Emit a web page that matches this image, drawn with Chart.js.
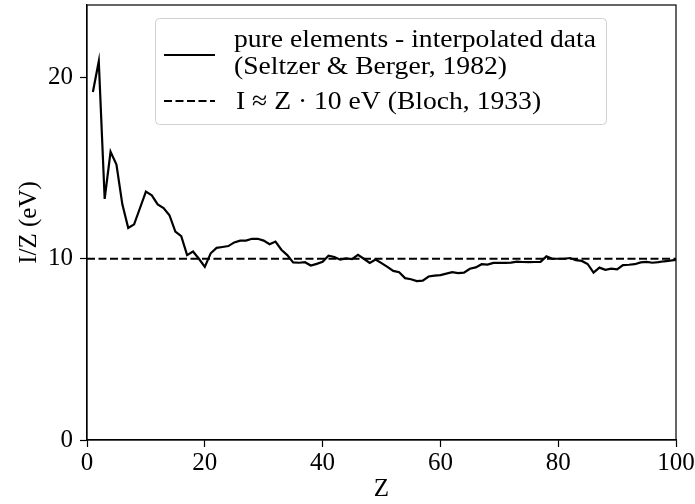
<!DOCTYPE html>
<html>
<head>
<meta charset="utf-8">
<script src="https://cdn.jsdelivr.net/npm/chart.js@4.4.1/dist/chart.umd.min.js"></script>
<style>
html,body{margin:0;padding:0;background:#fff;}
#wrap{width:695px;height:504px;position:relative;}
</style>
</head>
<body>
<div id="wrap"><canvas id="c" width="695" height="504"></canvas></div>
<script>
// ---- data ----
const atomicNumbers = Array.from({length: 100}, (_, i) => i + 1);
const meanExcitationPerZ = [
  19.2, 20.9, 13.3, 15.9, 15.2, 13.0, 11.7, 11.9, 12.8, 13.7,
  13.5, 13.0, 12.8, 12.4, 11.5, 11.25, 10.2, 10.4, 10.0, 9.55,
  10.3, 10.6, 10.65, 10.7, 10.9, 11.0, 11.0, 11.1, 11.1, 11.0,
  10.8, 10.95, 10.5, 10.2, 9.8, 9.78, 9.81, 9.63, 9.72, 9.83,
  10.17, 10.1, 9.95, 10.02, 9.98, 10.22, 10.0, 9.77, 9.96, 9.76,
  9.55, 9.33, 9.26, 8.93, 8.87, 8.77, 8.79, 9.02, 9.07, 9.1,
  9.18, 9.26, 9.21, 9.23, 9.45, 9.52, 9.7, 9.68, 9.77, 9.77,
  9.77, 9.79, 9.84, 9.82, 9.81, 9.82, 9.83, 10.13, 10.0, 10.0,
  10.0, 10.04, 9.92, 9.88, 9.71, 9.23, 9.51, 9.39, 9.45, 9.41,
  9.65, 9.67, 9.7, 9.8, 9.83, 9.78, 9.81, 9.86, 9.9, 9.94
];
const blochZ = [0, 100];
const blochValues = [10, 10];
const xTickValues = [0, 20, 40, 60, 80, 100];
const yTickValues = [0, 10, 20];
const legendLabels = [
  ["pure elements - interpolated data", "(Seltzer & Berger, 1982)"],
  ["I \u2248 Z \u00B7 10 eV (Bloch, 1933)"]
];
const xTitle = "Z";
const yTitle = "I/Z (eV)";

// ---- chart ----
const FONT = '"Liberation Serif", "Times New Roman", serif';

const framePlugin = {
  id: 'frame',
  afterDraw(chart) {
    const {ctx, chartArea: a} = chart;
    ctx.save();
    ctx.strokeStyle = '#000';
    ctx.lineWidth = 1.2;
    ctx.strokeRect(a.left, a.top, a.right - a.left, a.bottom - a.top);
    ctx.restore();
  }
};

const legendPlugin = {
  id: 'mplLegend',
  afterDraw(chart) {
    const ctx = chart.ctx;
    ctx.save();
    const bx = 155.5, by = 18.5, bw = 451, bh = 106, r = 4;
    ctx.beginPath();
    ctx.moveTo(bx + r, by);
    ctx.arcTo(bx + bw, by, bx + bw, by + bh, r);
    ctx.arcTo(bx + bw, by + bh, bx, by + bh, r);
    ctx.arcTo(bx, by + bh, bx, by, r);
    ctx.arcTo(bx, by, bx + bw, by, r);
    ctx.closePath();
    ctx.fillStyle = 'rgba(255,255,255,0.8)';
    ctx.fill();
    ctx.strokeStyle = '#d0d0d0';
    ctx.lineWidth = 1;
    ctx.stroke();

    // handles
    ctx.strokeStyle = '#000';
    ctx.lineWidth = 2.2;
    ctx.beginPath();
    ctx.moveTo(164, 55); ctx.lineTo(215, 55);
    ctx.stroke();
    ctx.setLineDash([8, 3.5]);
    ctx.beginPath();
    ctx.moveTo(164, 101); ctx.lineTo(215, 101);
    ctx.stroke();
    ctx.setLineDash([]);

    // text
    ctx.font = '26px ' + FONT;
    ctx.fillStyle = '#000';
    ctx.textBaseline = 'alphabetic';
    const w0 = ctx.measureText(legendLabels[0][0]).width;
    const sx = 362 / w0;
    const lines = [
      [legendLabels[0][0], 234, 47],
      [legendLabels[0][1], 234, 74],
      [legendLabels[1][0], 236, 109]
    ];
    for (const [t, x, y] of lines) {
      ctx.save();
      ctx.translate(x, y);
      ctx.scale(sx, 1);
      ctx.fillText(t, 0, 0);
      ctx.restore();
    }
    ctx.restore();
  }
};

const tickFont = {family: FONT, size: 25};

new Chart(document.getElementById('c'), {
  type: 'line',
  data: {
    datasets: [
      {
        label: legendLabels[0].join(' '),
        data: atomicNumbers.map((z, i) => ({x: z, y: meanExcitationPerZ[i]})),
        borderColor: '#000',
        borderWidth: 2.2,
        pointRadius: 0,
        tension: 0,
        fill: false
      },
      {
        label: legendLabels[1][0],
        data: blochZ.map((z, i) => ({x: z, y: blochValues[i]})),
        borderColor: '#000',
        borderWidth: 2.2,
        borderDash: [8, 3.5],
        pointRadius: 0,
        tension: 0,
        fill: false
      }
    ]
  },
  options: {
    responsive: false,
    animation: false,
    devicePixelRatio: 1,
    layout: {padding: {top: 5, right: 19, left: 0, bottom: 0}},
    plugins: {legend: {display: false}, tooltip: {enabled: false}, title: {display: false}},
    scales: {
      x: {
        type: 'linear',
        min: 0, max: 100,
        afterBuildTicks: s => { s.ticks = xTickValues.map(v => ({value: v})); },
        afterFit: s => { s.height = 64; s.paddingLeft = 0; s.paddingRight = 0; },
        grid: {drawOnChartArea: false, drawTicks: true, tickLength: 7, tickColor: '#000', tickWidth: 1.2},
        border: {color: '#000', width: 1.2},
        ticks: {font: tickFont, color: '#000', padding: 1, maxRotation: 0, autoSkip: false},
        title: {display: true, text: xTitle, font: tickFont, color: '#000', padding: {top: 0, bottom: 0}}
      },
      y: {
        type: 'linear',
        min: 0, max: 24,
        afterBuildTicks: s => { s.ticks = yTickValues.map(v => ({value: v})); },
        afterFit: s => { s.width = 87; s.paddingTop = 0; s.paddingBottom = 0; },
        grid: {drawOnChartArea: false, drawTicks: true, tickLength: 7, tickColor: '#000', tickWidth: 1.2},
        border: {color: '#000', width: 1.2},
        ticks: {font: tickFont, color: '#000', padding: 7, autoSkip: false},
        title: {display: true, text: yTitle, font: tickFont, color: '#000', padding: {top: 14, bottom: 0}}
      }
    }
  },
  plugins: [framePlugin, legendPlugin]
});
</script>
</body>
</html>
